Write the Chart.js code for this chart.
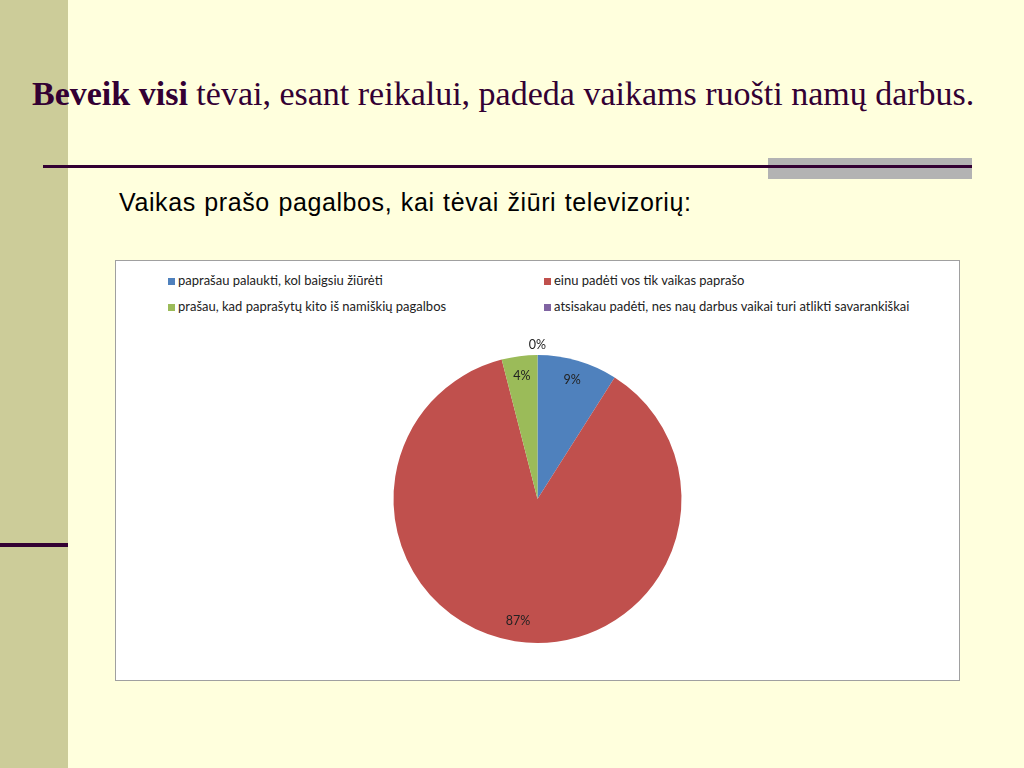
<!DOCTYPE html>
<html>
<head>
<meta charset="utf-8">
<script src="https://cdn.jsdelivr.net/npm/chart.js@4"></script>
<style>
  html, body { margin: 0; padding: 0; }
  body { width: 1024px; height: 768px; background: #FFFFDD; position: relative; overflow: hidden; }
  .stripe { position: absolute; left: 0; top: 0; width: 68px; height: 768px; background: #CCCC99; }
  .stripeLine { position: absolute; left: 0; top: 543px; width: 68px; height: 4px; background: #330033; }
  .grey { position: absolute; left: 768px; top: 158px; width: 204px; height: 21px; background: #B3B3B3; }
  .rule { position: absolute; left: 43px; top: 165px; width: 929px; height: 3px; background: #330033; }
  .title { position: absolute; left: 32px; top: 75px; white-space: nowrap;
    font-family: "Liberation Serif", serif; font-size: 34px; color: #330033; }
  .sub { position: absolute; left: 119px; top: 188px; white-space: nowrap;
    letter-spacing: 0.6px; word-spacing: 1px;
    font-family: "Liberation Sans", Arial, sans-serif; font-size: 25px; color: #000; }
  .box { position: absolute; left: 115px; top: 260px; width: 843px; height: 419px;
    border: 1px solid #A0A0A0; background: #FFFFFF; }
  .legend { position: absolute; left: 52px; top: 11px; width: 780px;
    font-family: Lato, "Open Sans", sans-serif; font-size: 13px; color: #222; }
  .legend .item { position: absolute; white-space: nowrap; }
  .legend .sw { display: inline-block; width: 7px; height: 7px; margin-right: 3px; vertical-align: 0px; }
  #wrap { position: absolute; left: 0; top: 70px; width: 843px; height: 336px; }
</style>
</head>
<body>
<div class="stripe"></div>
<div class="stripeLine"></div>
<div class="grey"></div>
<div class="rule"></div>
<div class="title"><b>Beveik visi</b> tėvai, esant reikalui, padeda vaikams ruošti namų darbus.</div>
<div class="sub">Vaikas prašo pagalbos, kai tėvai žiūri televizorių:</div>
<div class="box">
  <div class="legend" id="legend"></div>
  <div id="wrap"><canvas id="c"></canvas></div>
</div>
<script>
const categories = [
  'paprašau palaukti, kol baigsiu žiūrėti',
  'einu padėti vos tik vaikas paprašo',
  'prašau, kad paprašytų kito iš namiškių pagalbos',
  'atsisakau padėti, nes naų darbus vaikai turi atlikti savarankiškai'
];
const percentLabels = ['9%', '87%', '4%', '0%'];
const shares = [9, 87, 4, 0];
const colors = ['#4F81BD', '#C0504D', '#9BBB59', '#8064A2'];

// html legend, two columns like the original
const legend = document.getElementById('legend');
categories.forEach((name, i) => {
  const el = document.createElement('div');
  el.className = 'item';
  el.style.left = (i % 2 === 0 ? 0 : 376) + 'px';
  el.style.top = (i < 2 ? 0 : 26) + 'px';
  el.innerHTML = '<span class="sw" style="background:' + colors[i] + '"></span>' + name;
  legend.appendChild(el);
});

// percent labels inside the slices, zero slices just outside
const sliceLabels = {
  id: 'sliceLabels',
  afterDatasetsDraw(chart) {
    const ctx = chart.ctx;
    const meta = chart.getDatasetMeta(0);
    ctx.save();
    ctx.font = '12.5px Lato, "Open Sans", sans-serif';
    ctx.fillStyle = '#222';
    ctx.textAlign = 'center';
    ctx.textBaseline = 'middle';
    meta.data.forEach((arc, i) => {
      const mid = (arc.startAngle + arc.endAngle) / 2;
      const r = shares[i] === 0 ? arc.outerRadius + 10 : arc.outerRadius * 0.86;
      ctx.fillText(percentLabels[i], arc.x + Math.cos(mid) * r, arc.y + Math.sin(mid) * r);
    });
    ctx.restore();
  }
};

new Chart(document.getElementById('c'), {
  type: 'pie',
  data: {
    labels: categories,
    datasets: [{
      data: shares,
      backgroundColor: colors,
      borderWidth: 0
    }]
  },
  options: {
    responsive: true,
    maintainAspectRatio: false,
    animation: false,
    radius: 144,
    layout: { padding: 0 },
    plugins: {
      legend: { display: false },
      tooltip: { enabled: false }
    }
  },
  plugins: [sliceLabels]
});
</script>
</body>
</html>
